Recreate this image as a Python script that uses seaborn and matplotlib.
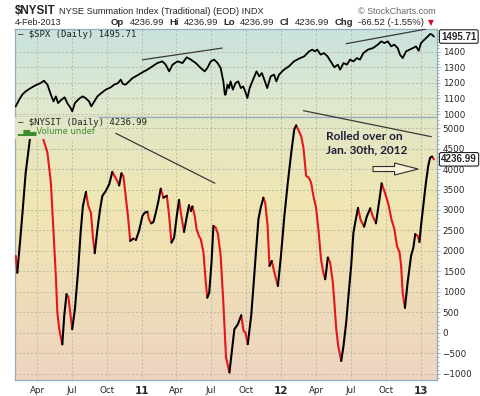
import numpy as np
import pandas as pd
import seaborn as sns
import matplotlib.pyplot as plt
from matplotlib.colors import LinearSegmentedColormap
from matplotlib.patches import FancyArrowPatch, Rectangle
from matplotlib.ticker import MultipleLocator

# $SPX daily close (upper panel)
spx_dates = ["2010-02-04", "2010-02-13", "2010-02-21", "2010-03-02", "2010-03-15", "2010-03-28",
             "2010-04-10", "2010-04-19", "2010-04-28", "2010-05-07", "2010-05-14", "2010-05-20",
             "2010-05-26", "2010-06-04", "2010-06-12", "2010-06-19", "2010-06-28", "2010-07-02",
             "2010-07-09", "2010-07-20", "2010-07-29", "2010-08-06", "2010-08-15", "2010-08-21",
             "2010-08-28", "2010-09-06", "2010-09-16", "2010-09-28", "2010-10-11", "2010-10-20",
             "2010-10-30", "2010-11-06", "2010-11-12", "2010-11-19", "2010-11-28", "2010-12-07",
             "2010-12-20", "2011-01-02", "2011-01-15", "2011-01-28", "2011-02-10", "2011-02-23",
             "2011-03-04", "2011-03-13", "2011-03-22", "2011-04-04", "2011-04-17", "2011-04-28",
             "2011-05-09", "2011-05-22", "2011-06-04", "2011-06-14", "2011-06-21", "2011-06-30",
             "2011-07-09", "2011-07-18", "2011-07-26", "2011-08-02", "2011-08-06", "2011-08-08",
             "2011-08-13", "2011-08-17", "2011-08-21", "2011-08-27", "2011-09-03", "2011-09-10",
             "2011-09-17", "2011-09-23", "2011-09-30", "2011-10-04", "2011-10-10", "2011-10-17",
             "2011-10-28", "2011-11-04", "2011-11-11", "2011-11-19", "2011-11-25", "2011-12-04",
             "2011-12-13", "2011-12-19", "2011-12-26", "2012-01-08", "2012-01-21", "2012-02-03",
             "2012-02-16", "2012-03-01", "2012-03-14", "2012-03-22", "2012-03-29", "2012-04-04",
             "2012-04-13", "2012-04-22", "2012-05-01", "2012-05-12", "2012-05-19", "2012-05-28",
             "2012-06-03", "2012-06-12", "2012-06-21", "2012-06-29", "2012-07-08", "2012-07-17",
             "2012-07-25", "2012-08-03", "2012-08-15", "2012-08-28", "2012-09-10", "2012-09-19",
             "2012-09-27", "2012-10-06", "2012-10-15", "2012-10-23", "2012-11-01", "2012-11-07",
             "2012-11-14", "2012-11-23", "2012-12-02", "2012-12-11", "2012-12-19", "2012-12-26",
             "2013-01-01", "2013-01-10", "2013-01-19", "2013-01-25", "2013-01-30", "2013-02-04"]
spx_values = [1049, 1092, 1124, 1145, 1166, 1184,
              1198, 1213, 1188, 1124, 1081, 1113,
              1070, 1092, 1107, 1070, 1038, 1017,
              1070, 1098, 1113, 1102, 1081, 1049,
              1077, 1113, 1134, 1156, 1171, 1188,
              1198, 1220, 1192, 1188, 1209, 1230,
              1248, 1267, 1284, 1305, 1326, 1337,
              1316, 1273, 1316, 1337, 1326, 1363,
              1348, 1326, 1294, 1273, 1294, 1337,
              1348, 1326, 1294, 1209, 1124, 1124,
              1188, 1166, 1209, 1156, 1198, 1209,
              1166, 1177, 1134, 1102, 1166, 1209,
              1273, 1241, 1262, 1209, 1166, 1241,
              1252, 1209, 1252, 1284, 1305, 1337,
              1354, 1369, 1401, 1412, 1401, 1412,
              1380, 1390, 1369, 1326, 1299, 1316,
              1284, 1326, 1316, 1348, 1337, 1358,
              1348, 1390, 1412, 1422, 1444, 1465,
              1454, 1465, 1433, 1444, 1422, 1380,
              1358, 1401, 1412, 1422, 1433, 1405,
              1454, 1476, 1497, 1512, 1508, 1495.71]

# $NYSIT summation index (lower panel)
nysi_dates = ["2010-02-04", "2010-02-08", "2010-02-15", "2010-02-21", "2010-03-02", "2010-03-13",
              "2010-03-31", "2010-04-17", "2010-04-28", "2010-05-07", "2010-05-14", "2010-05-20",
              "2010-05-24", "2010-05-29", "2010-06-06", "2010-06-11", "2010-06-17", "2010-06-22",
              "2010-07-02", "2010-07-09", "2010-07-17", "2010-07-24", "2010-07-30", "2010-08-07",
              "2010-08-13", "2010-08-20", "2010-08-25", "2010-08-30", "2010-09-06", "2010-09-13",
              "2010-09-19", "2010-09-28", "2010-10-07", "2010-10-15", "2010-10-21", "2010-10-28",
              "2010-11-02", "2010-11-08", "2010-11-13", "2010-11-19", "2010-11-25", "2010-12-01",
              "2010-12-09", "2010-12-16", "2010-12-24", "2011-01-02", "2011-01-08", "2011-01-15",
              "2011-01-19", "2011-01-25", "2011-01-31", "2011-02-06", "2011-02-12", "2011-02-19",
              "2011-02-26", "2011-03-07", "2011-03-13", "2011-03-19", "2011-03-26", "2011-04-02",
              "2011-04-08", "2011-04-14", "2011-04-21", "2011-04-27", "2011-05-04", "2011-05-09",
              "2011-05-13", "2011-05-19", "2011-05-24", "2011-05-30", "2011-06-04", "2011-06-11",
              "2011-06-17", "2011-06-21", "2011-06-26", "2011-07-02", "2011-07-07", "2011-07-13",
              "2011-07-19", "2011-07-26", "2011-08-02", "2011-08-09", "2011-08-18", "2011-08-31",
              "2011-09-09", "2011-09-18", "2011-09-24", "2011-09-29", "2011-10-05", "2011-10-14",
              "2011-10-20", "2011-10-27", "2011-11-02", "2011-11-08", "2011-11-15", "2011-11-20",
              "2011-11-26", "2011-12-01", "2011-12-07", "2011-12-14", "2011-12-23", "2011-12-31",
              "2012-01-09", "2012-01-18", "2012-01-27", "2012-02-04", "2012-02-09", "2012-02-13",
              "2012-02-22", "2012-02-28", "2012-03-06", "2012-03-13", "2012-03-19", "2012-03-25",
              "2012-04-01", "2012-04-08", "2012-04-14", "2012-04-20", "2012-04-25", "2012-05-02",
              "2012-05-08", "2012-05-15", "2012-05-19", "2012-05-24", "2012-05-29", "2012-06-06",
              "2012-06-12", "2012-06-19", "2012-06-25", "2012-07-02", "2012-07-08", "2012-07-13",
              "2012-07-20", "2012-07-27", "2012-08-05", "2012-08-12", "2012-08-21", "2012-08-28",
              "2012-09-05", "2012-09-14", "2012-09-20", "2012-09-29", "2012-10-08", "2012-10-16",
              "2012-10-23", "2012-10-30", "2012-11-06", "2012-11-10", "2012-11-14", "2012-11-20",
              "2012-11-27", "2012-12-06", "2012-12-12", "2012-12-17", "2012-12-24", "2012-12-28",
              "2013-01-01", "2013-01-07", "2013-01-14", "2013-01-20", "2013-01-25", "2013-01-30",
              "2013-02-04"]
nysi_values = [1880, 1470, 2200, 2860, 3910, 4730,
               5700, 4730, 4400, 3670, 2450, 1390,
               500, 90, -280, 415, 945, 865,
               90, 580, 1470, 2450, 3100, 3440,
               3100, 2935, 2365, 1945, 2530, 3020,
               3345, 3465, 3630, 3930, 3830, 3710,
               3600, 3895, 3830, 3345, 2855, 2245,
               2300, 2270, 2490, 2855, 2935, 2955,
               2775, 2675, 2710, 2935, 3180, 3520,
               3300, 3345, 2855, 2205, 2325, 2855,
               3245, 2855, 2465, 2775, 3115, 2975,
               3085, 2855, 2530, 2365, 2285, 1960,
               1230, 860, 985, 1715, 2610, 2570,
               2410, 1880, 740, -600, -965, 90,
               210, 430, 50, 10, -275, 415,
               1145, 2040, 2775, 3060, 3300, 3165,
               2610, 1635, 1755, 1470, 1145, 1880,
               2855, 3670, 4400, 4970, 5065, 4985,
               4805, 4520, 3830, 3790, 3670, 3345,
               3060, 2450, 1800, 1470, 1310, 1840,
               1715, 1230, 740, 90, -315, -685,
               -315, 255, 905, 1635, 2450, 2710,
               3050, 2755, 2595, 2840, 3040, 2840,
               2675, 3245, 3650, 3410, 3125, 2755,
               2550, 2125, 1960, 1635, 985, 610,
               1230, 1880, 2080, 2410, 2365, 2220,
               2610, 3100, 3670, 4075, 4280, 4303,
               4236.99]

tick_dates = ["2010-04-01", "2010-07-01", "2010-10-01", "2011-01-01", "2011-04-01", "2011-07-01",
              "2011-10-01", "2012-01-01", "2012-04-01", "2012-07-01", "2012-10-01", "2013-01-01"]
tick_labels = ["Apr", "Jul", "Oct", "11", "Apr", "Jul", "Oct", "12", "Apr", "Jul", "Oct", "13"]
spx_ticks = [1000, 1100, 1200, 1300, 1400]
nysi_ticks = list(range(-1000, 5001, 500))

# hand drawn trend lines on the chart
spx_trend1 = (["2011-01-02", "2011-07-30"], [1347, 1422])
spx_trend2 = (["2012-06-19", "2013-01-13"], [1450, 1543])
nysi_trend1 = (["2010-10-24", "2011-07-11"], [4873, 3653])
nysi_trend2 = (["2012-02-28", "2013-01-28"], [5424, 4790])

sns.set_style("white")
plt.rcParams["font.family"] = ["Liberation Sans", "DejaVu Sans"]

fig = plt.figure(figsize=(4.8, 3.96), dpi=100)
W, H = 480, 396
L, R = 15 / W, 437 / W
ax1 = fig.add_axes([L, 1 - 117 / H, R - L, (117 - 29) / H])
ax2 = fig.add_axes([L, 1 - 380 / H, R - L, (380 - 117) / H], sharex=ax1)

xlim = pd.to_datetime(["2010-02-02", "2013-02-12"])
spx_lim = (981, 1544)
nysi_lim = (-1150, 5270)

# gradient backgrounds
cm_top = LinearSegmentedColormap.from_list("top", ["#e3e8c9", "#d6e6d6", "#c9e3dd"])
cm_bot = LinearSegmentedColormap.from_list("bot", ["#eed4c2", "#efddb8", "#f0e6b2", "#e2e6c6"])
grad = np.linspace(0, 1, 256).reshape(-1, 1)
for ax, cm in ((ax1, cm_top), (ax2, cm_bot)):
    ax.imshow(grad, cmap=cm, aspect="auto", origin="lower", extent=[0, 1, 0, 1],
              transform=ax.transAxes, zorder=0)

# SPX line
spx = pd.DataFrame({"date": pd.to_datetime(spx_dates), "close": spx_values})
sns.lineplot(data=spx, x="date", y="close", color="black", lw=1.3, ax=ax1, zorder=3)

# NYSIT, black on rising stretches, red on falling ones
nysi = pd.DataFrame({"date": pd.to_datetime(nysi_dates), "value": nysi_values})
rising = np.diff(nysi["value"].values) >= 0
runs = []
start = 0
for i in range(1, len(rising) + 1):
    if i == len(rising) or rising[i] != rising[start]:
        runs.append((start, i, rising[start]))
        start = i
pieces = []
for k, (a, b, up) in enumerate(runs):
    p = nysi.iloc[a:b + 1].copy()
    p["run"] = k
    p["trend"] = "up" if up else "down"
    pieces.append(p)
segs = pd.concat(pieces, ignore_index=True)
sns.lineplot(data=segs, x="date", y="value", units="run", hue="trend", estimator=None,
             palette={"up": "black", "down": "#e5161b"}, lw=1.5, legend=False, sort=False,
             ax=ax2, zorder=3)

# trend lines
for ax, (d, v) in ((ax1, spx_trend1), (ax1, spx_trend2), (ax2, nysi_trend1)):
    ax.plot(pd.to_datetime(d), v, color="#3a3a3a", lw=0.9, zorder=4)
ax2.plot(pd.to_datetime(nysi_trend2[0]), nysi_trend2[1], color="#3a3a3a", lw=0.9,
         zorder=4, clip_on=False)

# axes styling
for ax, ticks, lim in ((ax1, spx_ticks, spx_lim), (ax2, nysi_ticks, nysi_lim)):
    ax.set_xlim(xlim)
    ax.set_ylim(lim)
    ax.set_yticks(ticks)
    ax.set_xticks(pd.to_datetime(tick_dates))
    ax.grid(True, color="#b9bca6", lw=0.7, ls=(0, (2, 2)), zorder=1)
    ax.set_axisbelow(False)
    ax.yaxis.tick_right()
    ax.tick_params(axis="y", which="both", direction="out", length=2.5, width=0.6,
                   color="#8aa4b4", labelsize=6.3, pad=1.5, left=False, labelleft=False)
    ax.tick_params(axis="x", length=2.5, width=0.6, color="#8aa4b4", labelsize=6.3, pad=2)
    ax.set_xlabel("")
    ax.set_ylabel("")
    for s in ax.spines.values():
        s.set_color("#93aebf")
        s.set_linewidth(0.9)
    for lbl in ax.get_yticklabels():
        lbl.set_fontfamily("DejaVu Sans")
ax1.yaxis.set_minor_locator(MultipleLocator(20))
ax2.yaxis.set_minor_locator(MultipleLocator(100))
ax1.tick_params(axis="y", which="minor", length=1.5)
ax2.tick_params(axis="y", which="minor", length=1.5)
ax1.tick_params(axis="x", labelbottom=False, length=0)
ax2.set_xticklabels(tick_labels)
for lbl, t in zip(ax2.get_xticklabels(), tick_labels):
    lbl.set_fontfamily("DejaVu Sans")
    if t.isdigit():
        lbl.set_fontweight("bold")
        lbl.set_fontsize(7.5)

# legend-style labels inside the panels
ax1.text(0.006, 0.99, "\u2014 $SPX (Daily) 1495.71", transform=ax1.transAxes, ha="left",
         va="top", fontsize=6.5, family="DejaVu Sans Mono", color="#222222", zorder=6)
ax2.add_patch(Rectangle((0, 0.918), 0.2, 0.09, transform=ax2.transAxes, fc="#e2e6c6",
                        ec="none", zorder=5))
ax2.text(0.006, 0.996, "\u2014 $NYSIT (Daily) 4236.99", transform=ax2.transAxes, ha="left",
         va="top", fontsize=6.5, family="DejaVu Sans Mono", color="#222222", zorder=6)
ax2.text(0.006, 0.962, "\u2582\u2586\u2584Volume undef", transform=ax2.transAxes, ha="left",
         va="top", fontsize=6, family="DejaVu Sans", color="#3d8c2f", zorder=6)

# last value tags on the right axis
tag = dict(boxstyle="round,pad=0.18", fc="white", ec="#222222", lw=0.8)
ax1.annotate(f"{spx_values[-1]:.2f}", xy=(1, spx_values[-1]), xycoords=("axes fraction", "data"),
             xytext=(3, 0), textcoords="offset points", va="center", ha="left", fontsize=7,
             fontweight="bold", bbox=tag, annotation_clip=False, zorder=7)
ax2.annotate(f"{nysi_values[-1]:.2f}", xy=(1, nysi_values[-1]), xycoords=("axes fraction", "data"),
             xytext=(3, 0), textcoords="offset points", va="center", ha="left", fontsize=7,
             fontweight="bold", bbox=tag, annotation_clip=False, zorder=7)

# author's note and hollow arrow
ax2.text(pd.Timestamp("2012-04-27"), 4930, "Rolled over on\nJan. 30th, 2012", ha="left",
         va="top", fontsize=8.6, fontweight="bold", family=["Lato", "DejaVu Sans"],
         color="#1d1d3a", linespacing=1.3, zorder=6)
arrow = FancyArrowPatch((pd.Timestamp("2012-08-21"), 4000), (pd.Timestamp("2013-01-01"), 4000),
                        arrowstyle="simple,head_length=1.7,head_width=0.86,tail_width=0.36",
                        mutation_scale=10, fc="#f6f1d6", ec="#2d2d2d", lw=0.8, zorder=6)
ax2.add_patch(arrow)

# header rows
fig.canvas.draw()
renderer = fig.canvas.get_renderer()
sym = fig.text(15 / W, 1 - 14 / H, "$NYSIT", fontsize=8.4, fontweight="bold", va="baseline")
sym_w = sym.get_window_extent(renderer).width
fig.text((15 + sym_w + 3) / W, 1 - 14 / H, "NYSE Summation Index (Traditional) (EOD) INDX",
         fontsize=6.7, va="baseline")
fig.text(436 / W, 1 - 14 / H, "\u00a9 StockCharts.com", fontsize=6.5, color="#666666",
         va="baseline", ha="right")
fig.text(15 / W, 1 - 25 / H, "4-Feb-2013", fontsize=6.5, va="baseline")

hdr = [("Op", "bold"), ("4236.99", "normal"), ("Hi", "bold"), ("4236.99", "normal"),
       ("Lo", "bold"), ("4236.99", "normal"), ("Cl", "bold"), ("4236.99", "normal"),
       ("Chg", "bold"), ("-66.52 (-1.55%)", "normal")]
x0 = 111
for s, wgt in hdr:
    t = fig.text(x0 / W, 1 - 25 / H, s, fontsize=6.8, fontweight=wgt, va="baseline", ha="left")
    x0 += t.get_window_extent(renderer).width + 5.2
fig.text((x0 - 1) / W, 1 - 25 / H, "\u25bc", fontsize=5.5, color="#c8102e", va="baseline",
         ha="left", family="DejaVu Sans")

fig.savefig("out.png", dpi=100)
